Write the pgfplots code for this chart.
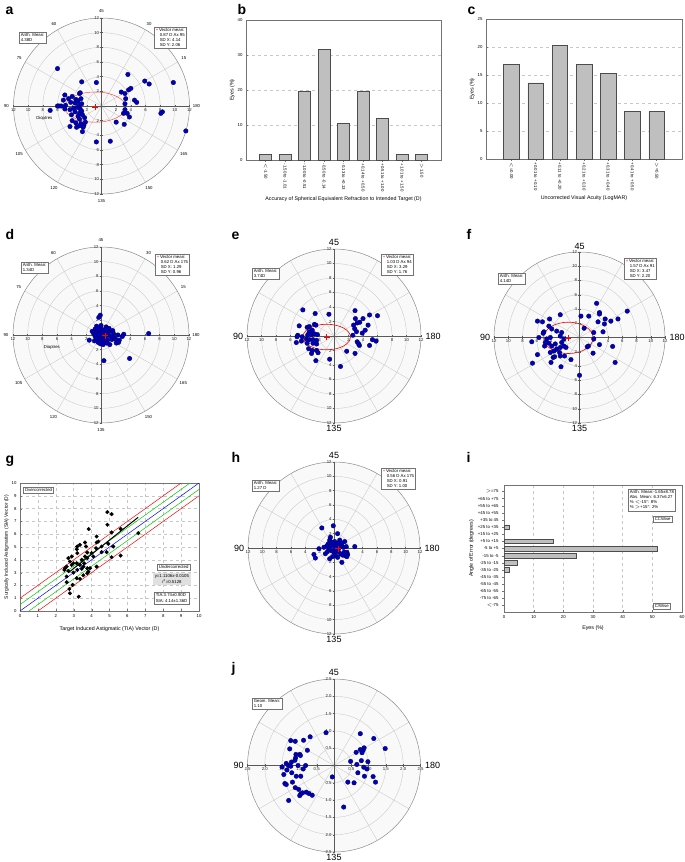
\documentclass[border=0pt]{standalone}
\usepackage{pgfplots}
\pgfplotsset{compat=1.18}
\usepackage{fontspec}
\setmainfont{Liberation Sans}
\newcommand\ts{\fontsize{4.3}{5}\selectfont}
\newcommand\ls{\fontsize{5.3}{6.3}\selectfont}
\newcommand\bs{\fontsize{9}{10}\selectfont}
\newcommand\pl{\fontsize{14}{16}\selectfont\bfseries}
\pgfplotsset{/pgf/number format/assume math mode=true,
 polar/.style={scale only axis, axis on top, axis lines=center, clip=false,
   axis line style={black!65,line width=0.5pt},
   every inner x axis line/.append style={-}, every inner y axis line/.append style={-},
   tick style={black!65, line width=0.4pt}, major tick length=2.5pt, tick align=center,
   ticklabel style={font=\ts, text=black!85, inner sep=1pt},
   xmin=-#1,xmax=#1,ymin=-#1,ymax=#1},
 p12/.style={polar=12, width=#1, height=#1, xtick={-12,-10,...,12}, ytick={-12,-10,-8,-6,-4,-2,2,4,6,8,10,12},
   xticklabel={\pgfmathparse{abs(\tick)}\pgfmathprintnumber{\pgfmathresult}},
   yticklabel={\pgfmathparse{abs(\tick)}\pgfmathprintnumber{\pgfmathresult}}},
 dots/.style={only marks, mark=*, mark size=2.3pt, mark options={fill=blue!75!black, draw=blue!30!black, line width=0.3pt}},
 vmean/.style={only marks, mark=+, red, mark size=3pt, mark options={line width=0.7pt}},
 bars/.style={scale only axis, axis line style={black!55}, tick style={black!55}, major tick length=2pt,
   ticklabel style={font=\ts}, label style={font=\ls}, grid style={dashed, black!22, line width=0.5pt}},
}
\newcommand\polarbg[2]{%
 \fill[black!2.5] (axis cs:0,0) circle[radius=#1];
 \pgfplotsinvokeforeach{#2}{\draw[black!22,line width=0.35pt] (axis cs:0,0) circle[radius=##1];}
 \pgfplotsinvokeforeach{30,60,120,150}{\draw[black!22,line width=0.35pt] (axis cs:{#1*cos(##1)},{#1*sin(##1)}) -- (axis cs:{-#1*cos(##1)},{-#1*sin(##1)});}
 \draw[black!45,line width=0.5pt] (axis cs:0,0) circle[radius=#1];
}
\newcommand\smallangles[1]{%
 \node[font=\ts] at (axis cs:{1.08*#1*cos(90)},{1.08*#1*sin(90)}) {45};
 \node[font=\ts] at (axis cs:{1.08*#1*cos(60)},{1.08*#1*sin(60)}) {30};
 \node[font=\ts] at (axis cs:{1.08*#1*cos(30)},{1.08*#1*sin(30)}) {15};
 \node[font=\ts] at (axis cs:{1.08*#1*cos(0)},{1.08*#1*sin(0)}) {180};
 \node[font=\ts] at (axis cs:{1.08*#1*cos(-30)},{1.08*#1*sin(-30)}) {165};
 \node[font=\ts] at (axis cs:{1.08*#1*cos(-60)},{1.08*#1*sin(-60)}) {150};
 \node[font=\ts] at (axis cs:{1.08*#1*cos(-90)},{1.08*#1*sin(-90)}) {135};
 \node[font=\ts] at (axis cs:{1.08*#1*cos(-120)},{1.08*#1*sin(-120)}) {120};
 \node[font=\ts] at (axis cs:{1.08*#1*cos(-150)},{1.08*#1*sin(-150)}) {105};
 \node[font=\ts] at (axis cs:{1.08*#1*cos(180)},{1.08*#1*sin(180)}) {90};
 \node[font=\ts] at (axis cs:{1.08*#1*cos(150)},{1.08*#1*sin(150)}) {75};
 \node[font=\ts] at (axis cs:{1.08*#1*cos(120)},{1.08*#1*sin(120)}) {60};
}
\newcommand\bigangles[1]{%
 \node[font=\bs, anchor=south, inner sep=1pt] at (axis cs:0,{1.02*#1}) {45};
 \node[font=\bs, anchor=north, inner sep=0.8pt] at (axis cs:0,{-1.01*#1}) {135};
 \node[font=\bs, anchor=east, inner sep=1pt] at (axis cs:{-1.03*#1},0) {90};
 \node[font=\bs, anchor=west, inner sep=1pt] at (axis cs:{1.04*#1},0) {180};
}
\tikzset{box/.style={draw=black!55, fill=white, font=\ts, align=left, inner sep=1.6pt, anchor=north west, line width=0.4pt}}
\newcommand\vmbox[3]{{\color{red}+}\,Vector mean:\\\hspace*{4pt}#1\\\hspace*{4pt}SD X: #2\\\hspace*{4pt}SD Y: #3}
\begin{document}
\begin{tikzpicture}
\useasboundingbox (0,0) rectangle (685pt,-862pt);
% ---------- a
\begin{axis}[p12=176pt, at={(13.5pt,-194pt)}, anchor=south west]
\polarbg{12}{2,4,6,8,10}
\smallangles{12}
\node[font=\ts] at (axis cs:-7.8,-1.7) {Dioptres};
\draw[red!70, line width=0.5pt] (axis cs:-0.86,-0.15) ellipse[x radius=4.14, y radius=2.06];
\addplot[dots] coordinates {(-6.0,5.1)(-2.7,3.3)(-0.7,3.2)(-5.0,1.5)(-4.0,1.3)(-3.0,1.7)(-2.9,1.8)(-4.5,1.0)(-5.2,0.8)(-3.5,0.9)(-2.8,1.0)(-5.5,0)(-5.8,0)(-6.0,0)(-4.9,0.1)(-4.2,0.5)(-3.6,0.4)(-3.2,0.7)(-3.0,0.2)(-2.7,0.3)(-3.8,-0.3)(-3.3,-0.2)(-2.9,-0.4)(-4.3,-0.5)(-3.6,-0.8)(-3.0,-1.0)(-2.7,-0.7)(-4.1,-1.2)(-3.2,-1.4)(-2.6,-1.2)(-7.0,-0.6)(-5.0,-0.4)(-4.0,-2.0)(-3.5,-2.3)(-2.8,-2.4)(-2.4,-2.6)(-2.2,-2.2)(-3.0,-2.7)(-4.3,-2.8)(-3.4,-2.9)(-2.5,-2.9)(-2.6,-3.5)(-0.7,-4.9)(-3.0,-1.8)(-2.3,-1.6)
(3.6,4.3)(3.7,2.2)(4.0,2.4)(5.9,3.4)(6.5,3.0)(9.8,3.2)(2.7,1.9)(3.2,1.7)(3.3,1.0)(4.5,0.8)(4.8,0.5)(3.2,0.3)(3.2,-0.5)(3.0,-1.0)(3.5,-1.0)(3.8,-1.5)(8.3,-0.8)(8.1,-1.0)(11.5,-3.4)(2.0,-2.2)(3.1,-2.5)(1.2,-4.8)};
\addplot[vmean] coordinates {(-0.86,-0.15)};
\end{axis}
% ---------- d
\begin{axis}[p12=176pt, at={(13pt,-423pt)}, anchor=south west]
\polarbg{12}{2,4,6,8,10}
\smallangles{12}
\node[font=\ts] at (axis cs:-6.7,-1.7) {Dioptres};
\addplot[dots] coordinates {(-0.1,2.7)(-0.3,2.4)(-0.6,1.2)(-0.8,0.8)(-0.1,1.0)(0.7,1.1)(1.2,0.5)(1.7,0.2)(3.1,0.1)(2.9,-0.2)(2.5,-0.7)(2.4,-1.0)(2.1,-1.1)(6.5,0.2)(3.9,-3.2)(0.4,-3.5)(-1.6,-0.7)(-0.9,-0.8)(-0.4,-1.0)(0.3,-1.3)(1.2,-1.3)(-1.0,0.2)(-0.8,-0.2)(-0.5,0.4)(-0.2,0.6)(0.1,0.3)(0.3,0.7)(0.5,0.2)(0.8,0.4)(1.0,0.0)(1.3,-0.2)(0.6,-0.4)(0.2,-0.2)(-0.2,-0.4)(-0.6,-0.5)(0.0,-0.8)(0.5,-0.8)(0.9,-0.7)(1.5,-0.6)(1.8,-0.4)(0.3,-0.1)(-0.3,0.1)(0.7,0.8)(1.1,0.9)(0.0,1.3)(-0.4,0.9)(1.6,0.6)(2.0,-0.6)(0.8,-1.1)(-0.1,-1.2)(-1.2,0.5)(2.3,0.0)};
\draw[red!80, line width=0.5pt] (axis cs:0.61,-0.11) ellipse[x radius=1.29, y radius=0.96];
\addplot[vmean] coordinates {(0.61,-0.11)};
\end{axis}
% ---------- e
\begin{axis}[p12=174pt, at={(247pt,-423pt)}, anchor=south west]
\polarbg{12}{2,4,6,8,10}
\bigangles{12}
\addplot[dots] coordinates {(-4.3,3.6)(-2.6,3.1)(-0.7,3.0)(-4.8,1.4)(-3.7,1.2)(-3.4,1.3)(-2.7,1.6)(-2.5,1.5)(-3.0,0.8)(-3.4,0.6)(-3.6,0.2)(-3.1,0.2)(-2.7,0.3)(-2.3,0.2)(-5.0,0.1)(-5.1,-0.1)(-4.4,-0.1)(-3.8,-0.4)(-3.4,-0.5)(-2.9,-0.5)(-2.4,-0.6)(-4.5,-0.7)(-5.2,-0.9)(-3.7,-1.0)(-2.9,-1.0)(-2.4,-1.1)(-3.5,-1.75)(-3.0,-2.0)(-2.4,-2.0)(-2.2,-2.3)(-3.1,-2.4)(-2.5,-3.4)(-0.6,-3.2)(0.9,-4.2)(1.75,-2.1)(2.9,-2.4)
(2.9,3.5)(2.95,2.4)(3.55,1.9)(3.2,1.8)(4.0,2.4)(4.9,2.9)(6.0,2.8)(2.7,1.5)(2.85,1.0)(3.1,0.6)(2.6,0.1)(3.9,0.4)(4.3,0.8)(4.7,1.5)(5.3,-0.5)(3.2,-0.8)(3.4,-1.1)(3.5,-1.3)(4.9,-1.3)(5.8,-0.7)};
\draw[red, line width=0.6pt] (axis cs:-1.02,-0.14) ellipse[x radius=3.29, y radius=1.76];
\addplot[vmean] coordinates {(-1.02,-0.14)};
\end{axis}
% ---------- f
\begin{axis}[p12=171pt, at={(494pt,-423pt)}, anchor=south west]
\polarbg{12}{2,4,6,8,10}
\bigangles{12}
\addplot[dots] coordinates {(-5.9,2.3)(-5.2,2.2)(-4.2,2.6)(-2.7,3.2)(-4.3,1.6)(-5.0,0.8)(-5.1,0.6)(-3.9,1.2)(-3.2,0.9)(-2.5,0.7)(-2.7,0.2)(-6.7,-0.6)(-5.7,0)(-5.9,-2.4)(-6.6,-3.6)(-4.9,-1.2)(-4.3,-0.8)(-3.9,-1.2)(-3.4,-0.9)(-3.2,-1.6)(-3.6,-1.9)(-2.7,-1.4)(-2.2,-1.2)(-2.8,-2.1)(-4.0,-3.5)(-3.7,-2.8)(-3.5,-2.7)(-2.7,-2.6)(-2.1,-2.6)(-2.6,-4.1)(-1.2,-3.1)(0,-5.3)(-1.9,-1.4)(-2.5,-0.7)(-2.2,-0.2)(-4.1,0)(-4.6,-0.2)(-4.8,-0.7)(-4.1,-2.1)
(0.2,3.0)(1.3,3.0)(2.4,4.8)(2.8,3.5)(2.8,3.3)(2.6,2.2)(3.5,1.9)(3.6,2.6)(4.4,2.3)(5.4,2.6)(6.7,3.7)(0.65,1.3)(2.0,0.7)(3.3,0.8)(1.1,-1.3)(2.8,-1.0)(1.9,-2.2)(4.65,-1.25)(5.0,-3.5)(1.25,-1.2)(2.0,-0.2)};
\draw[red, line width=0.6pt] (axis cs:-1.57,-0.05) ellipse[x radius=3.47, y radius=2.20];
\addplot[vmean] coordinates {(-1.57,-0.05)};
\end{axis}
% ---------- h
\begin{axis}[p12=172pt, at={(248pt,-634pt)}, anchor=south west]
\polarbg{12}{2,4,6,8,10}
\bigangles{12}
\addplot[dots] coordinates {(-1.7,2.8)(-0.1,3.1)(0.5,2.0)(-0.5,1.5)(-0.6,1.1)(-0.8,0.6)(-1.0,0.3)(-0.3,0.8)(0.1,0.9)(0.8,1.1)(1.5,0.9)(2.9,0.2)(-2.1,-0.1)(-2.8,-0.9)(-2.6,-1.4)(-1.2,-0.8)(-0.6,-1.5)(1.1,-2.0)(1.8,-0.6)(1.9,-0.9)(1.4,-0.6)(-0.4,0.3)(0.0,0.5)(0.4,0.3)(0.7,0.0)(1.0,0.4)(1.3,0.1)(1.7,0.2)(0.3,-0.3)(0.6,-0.5)(0.9,-0.8)(1.2,-1.0)(1.6,-1.1)(0.0,-0.6)(-0.3,-0.4)(-0.7,-0.2)(0.2,-1.0)(-0.2,-1.2)(0.5,-1.3)(1.8,-1.2)(-1.4,0.1)(0.6,0.7)(1.1,0.7)(0.2,0.0)(-0.9,-0.5)};
\draw[red, line width=0.5pt] (axis cs:0.55,-0.10) ellipse[x radius=0.91, y radius=1.00];
\addplot[vmean] coordinates {(0.55,-0.10)};
\end{axis}
% ---------- j
\begin{axis}[polar=2.5, width=173pt, height=173pt, at={(247.5pt,-852pt)}, anchor=south west,
  xtick={-2.5,-2,...,2.5}, ytick={-2.5,-2,-1.5,-1,-0.5,0,0.5,1,1.5,2,2.5},
  xticklabel={\pgfmathparse{abs(\tick)}\pgfmathprintnumber[fixed,fixed zerofill,precision=1]{\pgfmathresult}},
  yticklabel={\pgfmathparse{abs(\tick)}\pgfmathprintnumber[fixed,fixed zerofill,precision=1]{\pgfmathresult}}]
\polarbg{2.5}{0.5,1,1.5,2}
\bigangles{2.5}
\addplot[dots] coordinates {(-1.25,0.72)(-1.12,0.70)(-0.69,0.83)(-0.88,0.73)(-0.23,0.95)(-1.28,0.48)(-0.77,0.44)(-1.10,0.32)(-0.99,0.32)(-1.11,0.22)(-0.97,0.29)(-1.13,0.15)(-1.23,0.10)(-1.38,0.06)(-1.32,0)(-1.5,-0.04)(-1.25,-0.02)(-1.04,0)(-0.82,0)(-1.36,-0.13)(-1.45,-0.26)(-1.22,-0.21)(-1.09,-0.31)(-0.96,-0.31)(-0.89,-0.10)(-1.2,-0.48)(-1.42,-0.52)(-1.38,-0.55)(-1.12,-0.64)(-1.02,-0.69)(-0.96,-0.82)(-0.99,-0.87)(-0.91,-0.79)(-0.8,-0.77)(-0.72,-0.81)(-0.63,-0.86)(-1.31,-1.01)(-0.05,-0.33)
(0.76,0.92)(1.15,0.78)(1.48,0.49)(0.84,0.44)(0.87,0.51)(0.81,0.37)(0.76,0.46)(0.64,0.38)(0.48,0.12)(0.66,0.03)(0.79,0.14)(0.98,0.11)(0.86,-0.05)(0.95,-0.10)(0.69,-0.21)(0.88,-0.31)(1.13,-0.32)(1.2,-0.48)(0.40,-0.48)(0.58,-0.5)(0.28,-1.2)};
\end{axis}
% ---------- b
\begin{axis}[bars, at={(246pt,-160pt)}, anchor=south west, width=195pt, height=140pt,
  xmin=-1, xmax=9, ymin=0, ymax=40, ytick={0,10,...,40}, xtick={0,...,8},
  xticklabels={{$<$-1.50},{-1.50 to -1.01},{-1.00 to -0.51},{-0.50 to -0.14},{-0.13 to +0.13},{+0.14 to +0.50},{+0.51 to +1.00},{+1.01 to +1.50},{$>$1.50}},
  xticklabel style={rotate=-90, anchor=west, inner sep=1.5pt}, tick pos=left, ymajorgrids,
  ybar, bar width=12pt, xlabel={Accuracy of Spherical Equivalent Refraction to Intended Target (D)}, ylabel={Eyes (\%)},
  ylabel style={yshift=-4pt}]
\addplot[fill=black!25, draw=black!70, line width=0.4pt] coordinates {(0,1.7)(1,1.7)(2,19.7)(3,31.7)(4,10.5)(5,19.7)(6,12)(7,1.7)(8,1.7)};
\end{axis}
% ---------- c
\begin{axis}[bars, at={(486pt,-159pt)}, anchor=south west, width=196pt, height=140pt,
  xmin=-1.05, xmax=7.05, ymin=0, ymax=25, ytick={0,5,...,25}, xtick={0,...,6},
  xticklabels={{$<$=0.00},{+0.01 to +0.10},{+0.11 to +0.20},{+0.21 to +0.30},{+0.31 to +0.40},{+0.41 to +0.50},{$>$=0.50}},
  xticklabel style={rotate=-90, anchor=west, inner sep=1.5pt}, tick pos=left, ymajorgrids,
  ybar, bar width=15.5pt, xlabel={Uncorrected Visual Acuity (LogMAR)}, ylabel={Eyes (\%)},
  ylabel style={yshift=-4pt}]
\addplot[fill=black!25, draw=black!70, line width=0.4pt] coordinates {(0,16.9)(1,13.6)(2,20.3)(3,16.9)(4,15.3)(5,8.5)(6,8.5)};
\end{axis}
% ---------- g
\begin{axis}[bars, at={(20pt,-611pt)}, anchor=south west, width=179pt, height=128pt,
  xmin=0, xmax=10, ymin=0, ymax=10, xtick={0,...,10}, ytick={0,...,10}, grid=major, tick pos=left,
  xlabel={Target Induced Astigmatic (TIA) Vector (D)}, ylabel={Surgically Induced Astigmatism (SIA) Vector (D)},
  ylabel style={font=\fontsize{4.9}{6}\selectfont, yshift=-4pt}, xlabel style={yshift=-2pt}]
\addplot[red, line width=0.5pt] coordinates {(0,1)(9,10)};
\addplot[red, line width=0.5pt] coordinates {(1,0)(10,9)};
\addplot[green!80!black, line width=0.5pt] coordinates {(0,0.5)(9.5,10)};
\addplot[green!80!black, line width=0.5pt] coordinates {(0.5,0)(10,9.5)};
\addplot[blue, line width=0.5pt] coordinates {(0,0)(10,10)};
\addplot[only marks, mark=*, mark size=1.8pt, black] coordinates {(4.88,7.73)(5.12,7.57)(4.88,6.74)(3.84,6.40)(5.12,6.14)(5.62,6.42)(6.61,6.08)(4.28,5.82)(4.38,5.43)(3.63,5.35)(3.35,5.17)(3.2,5.04)(3.69,5.04)(3.17,4.83)(4.28,5.35)(4.56,5.04)(4.93,5.25)(5.21,5.04)(4.84,4.6)(4.56,4.6)(3.76,4.57)(4.0,4.52)(4.1,4.26)(3.63,4.26)(3.2,4.52)(2.89,4.26)(2.7,4.13)(2.79,3.86)(2.98,3.73)(3.17,3.73)(3.35,3.6)(3.54,3.47)(3.76,3.34)(3.91,3.34)(2.61,3.47)(2.51,3.34)(2.48,3.21)(2.7,3.13)(2.98,3.0)(3.2,3.21)(3.45,3.29)(4.28,3.47)(3.54,2.79)(3.76,2.95)(3.17,2.56)(3.35,2.51)(2.76,1.72)(2.94,2.04)(2.79,1.38)(3.28,1.12)(5.12,4.2)(5.62,4.33)(2.61,2.25)(2.61,2.69)(2.89,3.6)(3.45,4.0)(3.76,4.13)(4.25,4.91)(3.82,3.08)(3.58,3.73)};
\addplot[black, line width=1pt] coordinates {(2.7,2.99)(6.6,7.32)};
\end{axis}
% ---------- i
\begin{axis}[bars, at={(504pt,-612pt)}, anchor=south west, width=178pt, height=127pt,
  xmin=0, xmax=60, xtick={0,10,...,60}, ymin=-0.9, ymax=16.9, y dir=reverse, ytick={0,...,16},
  yticklabels={{$>$=75},{+65 to +75},{+55 to +65},{+45 to +55},{+35 to 45},{+25 to +35},{+15 to +25},{+5 to +15},{-5 to +5},{-15 to -5},{-25 to -15},{-35 to -25},{-45 to -35},{-55 to -45},{-65 to -55},{-75 to -65},{$<$-75}},
  xmajorgrids, tick pos=left, xbar, bar width=4.5pt,
  xlabel={Eyes (\%)}, ylabel={Angle of Error (degrees)}, ylabel style={yshift=-3pt}]
\addplot[fill=black!25, draw=black!70, line width=0.4pt] coordinates {(1.7,5)(16.7,7)(51.5,8)(24.4,9)(4.6,10)(1.6,11)};
\end{axis}
% ---------- boxes
\node[box] at (19pt,-32pt) {Arith. Mean:\\4.38D};
\node[box] at (154pt,-27pt) {\vmbox{0.87 D Ax 95}{4.14}{2.06}};
\node[box] at (21pt,-262pt) {Arith. Mean:\\1.34D};
\node[box] at (155pt,-254pt) {\vmbox{0.62 D Ax 175}{1.29}{0.96}};
\node[box] at (252pt,-268pt) {Arith. Mean:\\3.74D};
\node[box] at (381pt,-254pt) {\vmbox{1.03 D Ax 94}{3.29}{1.76}};
\node[box] at (498pt,-273pt) {Arith. Mean:\\4.14D};
\node[box] at (624pt,-258pt) {\vmbox{1.57 D Ax 91}{3.47}{2.20}};
\node[box] at (252pt,-480pt) {Arith. Mean:\\1.27 D};
\node[box] at (381pt,-468pt) {\vmbox{0.56 D Ax 175}{0.91}{1.00}};
\node[box] at (252pt,-698pt) {Geom. Mean:\\1.10};
\node[box] at (23pt,-487pt) {Overcorrected};
\node[box] at (157pt,-564pt) {Undercorrected};
\node[box, draw=none, fill=black!12, align=center] at (153pt,-573pt) {y=1.1106x-0.0105\\r\textsuperscript{2}=0.5128};
\node[box, align=left] at (154pt,-592pt) {TIA:3.74±0.90D\\[1pt]SIA: 4.14±1.36D};
\node[box] at (628pt,-489pt) {Arith. Mean:-1.65±8.78\\Abs. Mean: 6.37±6.27\\\% $<$-15°: 8\%\\\% $>$+15°: 2\%};
\node[box] at (653pt,-516pt) {CCWise};
\node[box] at (653pt,-603pt) {C/Wise};
% ---------- panel letters
\node[font=\pl, anchor=base west] at (2pt,-14pt) {a};
\node[font=\pl, anchor=base west] at (234pt,-14pt) {b};
\node[font=\pl, anchor=base west] at (464pt,-14pt) {c};
\node[font=\pl, anchor=base west] at (2pt,-239pt) {d};
\node[font=\pl, anchor=base west] at (228pt,-239pt) {e};
\node[font=\pl, anchor=base west] at (463pt,-239pt) {f};
\node[font=\pl, anchor=base west] at (2pt,-463pt) {g};
\node[font=\pl, anchor=base west] at (228pt,-462pt) {h};
\node[font=\pl, anchor=base west] at (463pt,-462pt) {i};
\node[font=\pl, anchor=base west] at (228pt,-672pt) {j};
\end{tikzpicture}
\end{document}
